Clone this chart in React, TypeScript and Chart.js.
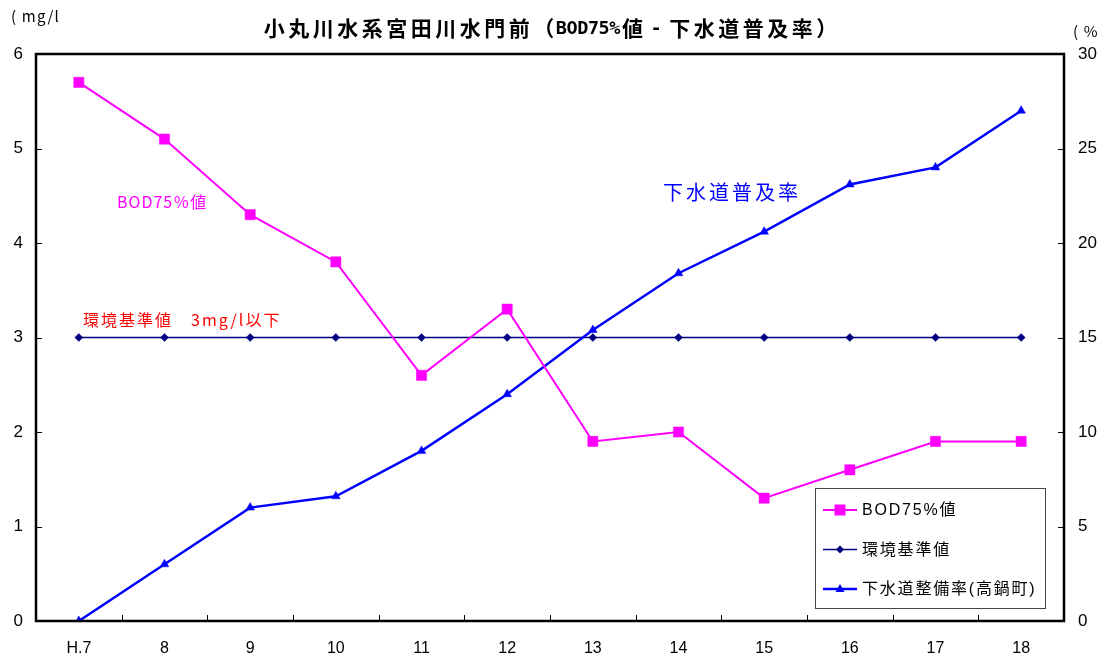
import React, { useEffect, useRef } from 'react';
import { Chart, registerables } from 'chart.js';

Chart.register(...registerables);

// ---- data ----
const categories = ['H.7', '8', '9', '10', '11', '12', '13', '14', '15', '16', '17', '18'];
const bodValues = [5.7, 5.1, 4.3, 3.8, 2.6, 3.3, 1.9, 2.0, 1.3, 1.6, 1.9, 1.9];
const standardValues = [3, 3, 3, 3, 3, 3, 3, 3, 3, 3, 3, 3];
const sewerRate = [0, 3.0, 6.0, 6.6, 9.0, 12.0, 15.4, 18.4, 20.6, 23.1, 24.0, 27.0];
const leftTicks = [0, 1, 2, 3, 4, 5, 6];
const rightTicks = [0, 5, 10, 15, 20, 25, 30];
const seriesNames = ['BOD75%値', '環境基準値', '下水道整備率(高鍋町)'];
const titleText = '小丸川水系宮田川水門前（BOD75%値 - 下水道普及率）';
const leftUnit = '( mg/l';
const rightUnit = '( %';
const bodNote = 'BOD75％値';
const standardNote = '環境基準値　3mg/l以下';
const sewerNote = '下水道普及率';

const LATIN = '"Liberation Sans", "Noto Sans CJK JP", sans-serif';
const CJK = '"Noto Sans CJK JP", "Liberation Sans", sans-serif';
const MONO = '"DejaVu Sans Mono", monospace';

const MAGENTA = '#FF00FF';
const NAVY = '#000080';
const BLUE = '#0000FF';

function drawMarker(ctx: CanvasRenderingContext2D, kind: string, x: number, y: number, color: string) {
  ctx.save();
  ctx.fillStyle = color;
  ctx.beginPath();
  if (kind === 'rect') {
    ctx.rect(x - 5.5, y - 5.5, 11, 11);
  } else if (kind === 'diamond') {
    ctx.moveTo(x, y - 4);
    ctx.lineTo(x + 4, y);
    ctx.lineTo(x, y + 4);
    ctx.lineTo(x - 4, y);
    ctx.closePath();
  } else {
    ctx.moveTo(x, y - 5);
    ctx.lineTo(x + 4.5, y + 3);
    ctx.lineTo(x - 4.5, y + 3);
    ctx.closePath();
  }
  ctx.fill();
  ctx.restore();
}

// Gothic-style title: full-width glyphs in CJK font, half-width glyphs in a mono font
function drawGothicTitle(ctx: CanvasRenderingContext2D, text: string, x: number, y: number) {
  let cx = x;
  for (const ch of Array.from(text)) {
    const isFull = ch.charCodeAt(0) > 0x2000;
    const isSpace = ch === ' ';
    ctx.font = isFull ? 'bold 21px ' + CJK : 'bold 18.5px ' + MONO;
    const adv = isFull ? 24.5 : isSpace ? 6 : 10.7;
    const w = ctx.measureText(ch).width;
    if (!isSpace) ctx.fillText(ch, cx + (adv - w) / 2, isFull ? y : y + 1.5);
    cx += adv;
  }
}

const decorPlugin = {
  id: 'decor',
  beforeDraw(chart: any) {
    const ctx = chart.ctx;
    ctx.save();
    ctx.fillStyle = '#ffffff';
    ctx.fillRect(0, 0, chart.width, chart.height);
    ctx.restore();
  },
  afterDraw(chart: any) {
    const { ctx, chartArea: a, scales } = chart;
    ctx.save();

    // inner ticks
    ctx.strokeStyle = '#000';
    ctx.lineWidth = 1;
    ctx.beginPath();
    const xs = scales.x;
    for (let i = 1; i < categories.length; i++) {
      const px = Math.round((xs.getPixelForValue(i - 1) + xs.getPixelForValue(i)) / 2) + 0.5;
      ctx.moveTo(px, a.bottom);
      ctx.lineTo(px, a.bottom - 6);
    }
    leftTicks.slice(1, -1).forEach((v) => {
      const py = Math.round(scales.y.getPixelForValue(v)) + 0.5;
      ctx.moveTo(a.left, py);
      ctx.lineTo(a.left + 6, py);
    });
    rightTicks.slice(1, -1).forEach((v) => {
      const py = Math.round(scales.y1.getPixelForValue(v)) + 0.5;
      ctx.moveTo(a.right, py);
      ctx.lineTo(a.right - 6, py);
    });
    ctx.stroke();

    // frame
    ctx.lineWidth = 2.5;
    ctx.strokeRect(a.left, a.top, a.right - a.left, a.bottom - a.top);

    // title
    ctx.fillStyle = '#000';
    ctx.textBaseline = 'middle';
    ctx.textAlign = 'left';
    drawGothicTitle(ctx, titleText, 262, 28);

    // units
    ctx.font = '15px ' + CJK;
    (ctx as any).letterSpacing = '1.2px';
    ctx.fillText(leftUnit, 11, 16);
    ctx.fillText(rightUnit, 1073, 31);
    (ctx as any).letterSpacing = '0px';

    // annotations
    ctx.font = '16px ' + CJK;
    ctx.fillStyle = MAGENTA;
    (ctx as any).letterSpacing = '1px';
    ctx.fillText(bodNote, a.left + 81, 202);
    ctx.fillStyle = '#FF0000';
    (ctx as any).letterSpacing = '2px';
    ctx.fillText(standardNote, a.left + 47, 320);
    ctx.font = '20px ' + CJK;
    ctx.fillStyle = BLUE;
    (ctx as any).letterSpacing = '3px';
    ctx.fillText(sewerNote, a.left + 627, 192);
    (ctx as any).letterSpacing = '0px';

    // legend
    const lx = 815, ly = 488, lw = 230, lh = 120;
    ctx.fillStyle = '#ffffff';
    ctx.fillRect(lx, ly, lw, lh);
    ctx.strokeStyle = '#444';
    ctx.lineWidth = 1;
    ctx.strokeRect(lx + 0.5, ly + 0.5, lw, lh);
    const items = [
      { color: MAGENTA, width: 2, marker: 'rect' },
      { color: NAVY, width: 1.3, marker: 'diamond' },
      { color: BLUE, width: 2.5, marker: 'triangle' },
    ];
    ctx.font = '16px ' + LATIN;
    (ctx as any).letterSpacing = '1.8px';
    ctx.textBaseline = 'middle';
    items.forEach((it, i) => {
      const y = ly + 22 + i * 39.5;
      ctx.strokeStyle = it.color;
      ctx.lineWidth = it.width;
      ctx.beginPath();
      ctx.moveTo(lx + 8, y);
      ctx.lineTo(lx + 42, y);
      ctx.stroke();
      drawMarker(ctx, it.marker, lx + 25, y, it.color);
      ctx.fillStyle = '#000';
      ctx.fillText(seriesNames[i], lx + 47, y + 1);
    });
    (ctx as any).letterSpacing = '0px';

    ctx.restore();
  },
};

export default function App() {
  const canvasRef = useRef<HTMLCanvasElement | null>(null);

  useEffect(() => {
    document.body.style.margin = '0';
    const canvas = canvasRef.current;
    if (!canvas) return;
    const chart = new Chart(canvas, {
      type: 'line',
      data: {
        labels: categories,
        datasets: [
          {
            label: seriesNames[0],
            data: bodValues,
            yAxisID: 'y',
            borderColor: MAGENTA,
            backgroundColor: MAGENTA,
            borderWidth: 2,
            pointStyle: 'rect',
            pointRadius: 7.2,
            pointBorderWidth: 0.5,
            tension: 0,
          },
          {
            label: seriesNames[2],
            data: sewerRate,
            yAxisID: 'y1',
            borderColor: BLUE,
            backgroundColor: BLUE,
            borderWidth: 2.5,
            pointStyle: 'triangle',
            pointRadius: 5,
            pointBorderWidth: 0.5,
            tension: 0,
          },
          {
            label: seriesNames[1],
            data: standardValues,
            yAxisID: 'y',
            borderColor: NAVY,
            backgroundColor: NAVY,
            borderWidth: 1.3,
            pointStyle: 'rectRot',
            pointRadius: 4,
            pointBorderWidth: 0.5,
            tension: 0,
          },
        ],
      },
      options: {
        responsive: false,
        animation: false,
        layout: { padding: { top: 54, left: 0, right: 0, bottom: 0 } },
        plugins: {
          legend: { display: false },
          title: { display: false },
          tooltip: { enabled: false },
        },
        scales: {
          x: {
            type: 'category',
            offset: true,
            grid: { display: false, drawTicks: false },
            border: { display: false },
            ticks: {
              color: '#000',
              font: { family: LATIN, size: 16 },
              padding: 18,
              maxRotation: 0,
              autoSkip: false,
            },
            afterFit: (s: any) => { s.height = 38; },
          },
          y: {
            position: 'left',
            min: leftTicks[0],
            max: leftTicks[leftTicks.length - 1],
            grid: { display: false, drawTicks: false },
            border: { display: false },
            ticks: {
              stepSize: leftTicks[1] - leftTicks[0],
              color: '#000',
              font: { family: LATIN, size: 17 },
              padding: 13,
            },
            afterFit: (s: any) => { s.width = 36; },
          },
          y1: {
            position: 'right',
            min: rightTicks[0],
            max: rightTicks[rightTicks.length - 1],
            grid: { display: false, drawTicks: false },
            border: { display: false },
            ticks: {
              stepSize: rightTicks[1] - rightTicks[0],
              color: '#000',
              font: { family: LATIN, size: 17 },
              padding: 14,
            },
            afterFit: (s: any) => { s.width = 51; },
          },
        },
      },
      plugins: [decorPlugin],
    });
    return () => chart.destroy();
  }, []);

  return (
    <div style={{ width: 1115, height: 659 }}>
      <canvas ref={canvasRef} width={1115} height={659} style={{ display: 'block' }} />
    </div>
  );
}
